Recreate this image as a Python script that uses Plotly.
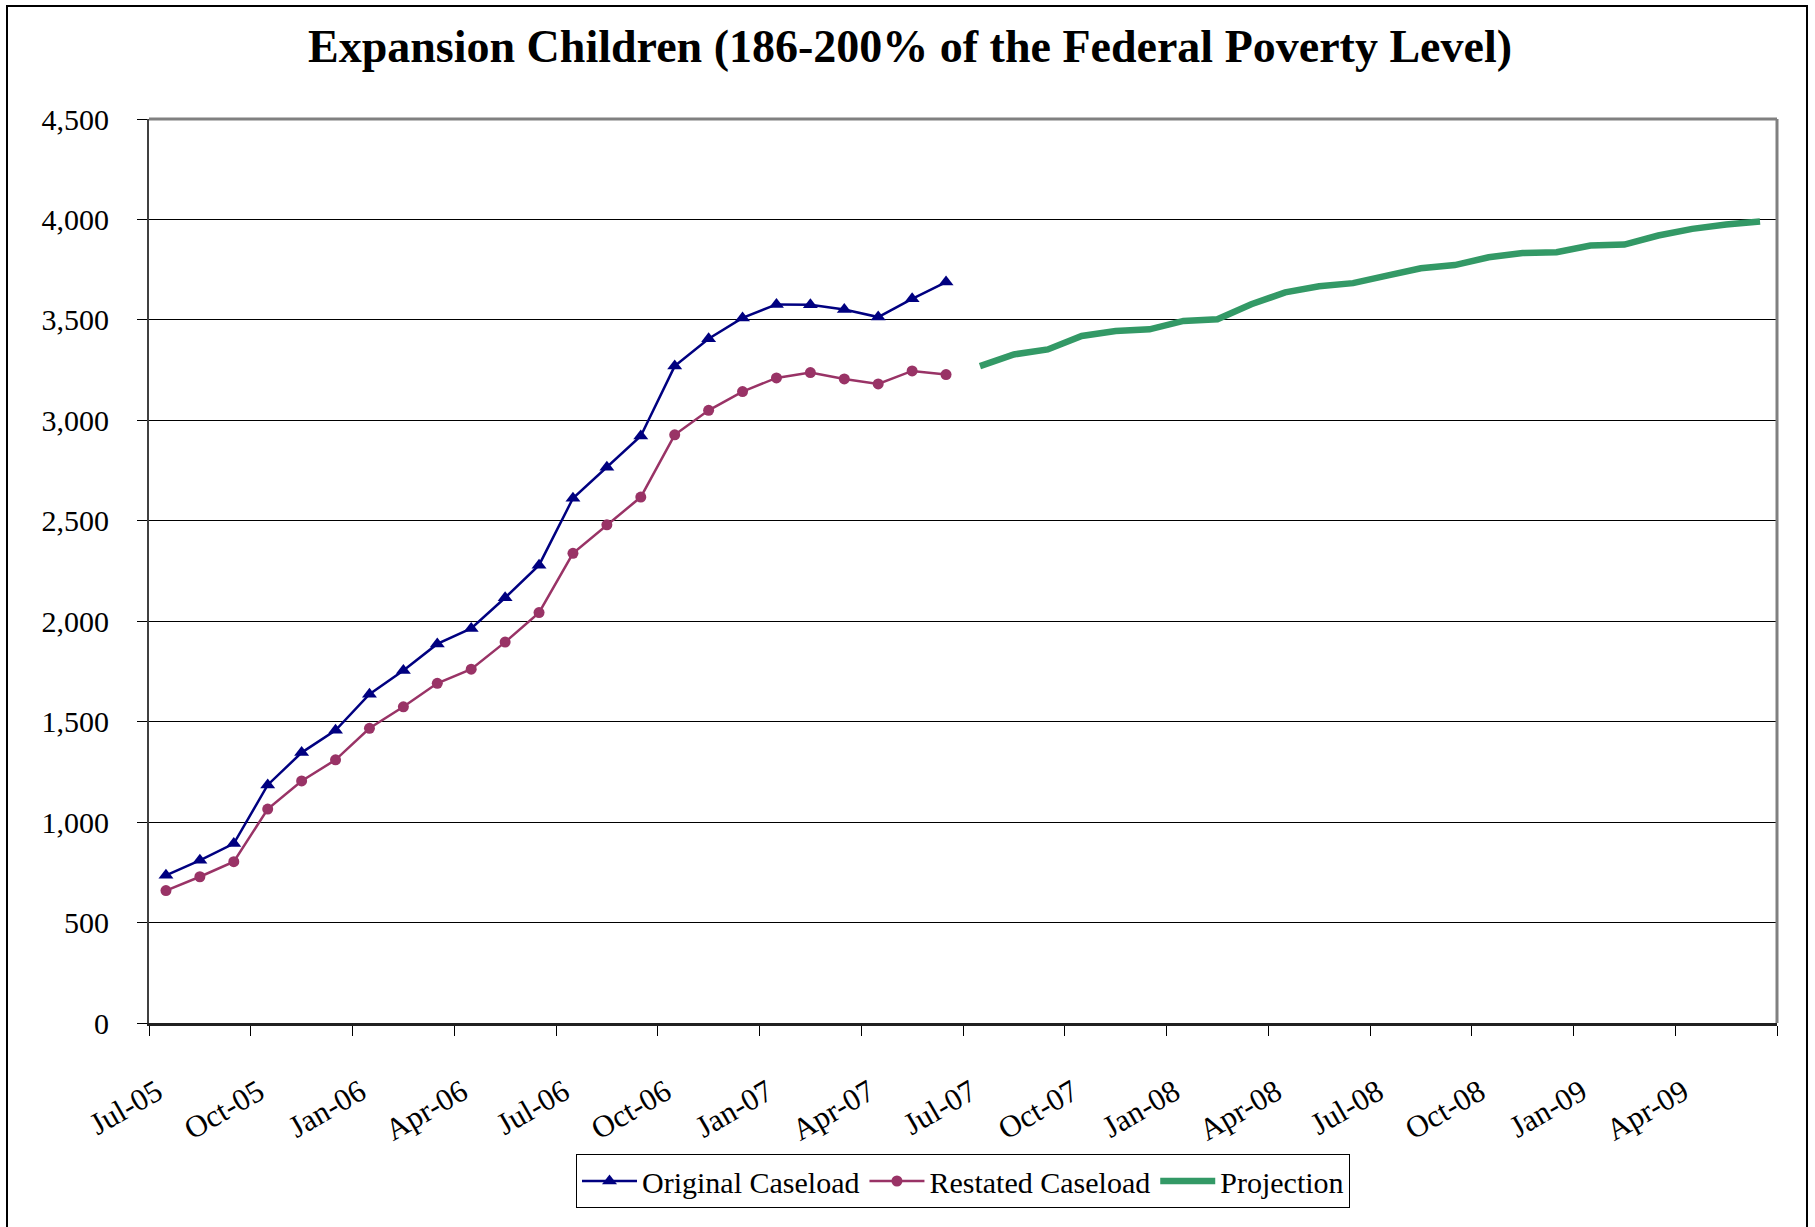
import plotly.graph_objects as go

# ---- data ----
months = [
    "Jul-05", "Aug-05", "Sep-05", "Oct-05", "Nov-05", "Dec-05",
    "Jan-06", "Feb-06", "Mar-06", "Apr-06", "May-06", "Jun-06",
    "Jul-06", "Aug-06", "Sep-06", "Oct-06", "Nov-06", "Dec-06",
    "Jan-07", "Feb-07", "Mar-07", "Apr-07", "May-07", "Jun-07",
    "Jul-07", "Aug-07", "Sep-07", "Oct-07", "Nov-07", "Dec-07",
    "Jan-08", "Feb-08", "Mar-08", "Apr-08", "May-08", "Jun-08",
    "Jul-08", "Aug-08", "Sep-08", "Oct-08", "Nov-08", "Dec-08",
    "Jan-09", "Feb-09", "Mar-09", "Apr-09", "May-09", "Jun-09",
]

original_caseload = [735, 810, 893, 1185, 1346, 1457, 1637, 1755, 1887, 1964, 2117, 2279,
                     2612, 2766, 2922, 3270, 3406, 3510, 3577, 3575, 3552, 3514, 3605, 3688]
restated_caseload = [659, 728, 803, 1065, 1205, 1310, 1467, 1574, 1691, 1761, 1896, 2043,
                     2338, 2480, 2618, 2928, 3050, 3143, 3211, 3238, 3206, 3181, 3246, 3228]
projection = [3270, 3328, 3353, 3420, 3445, 3453, 3495, 3503, 3578, 3637, 3667, 3683,
              3720, 3757, 3773, 3812, 3833, 3837, 3870, 3875, 3920, 3953, 3975, 3990]

title_text = "Expansion Children (186-200% of the Federal Poverty Level)"

# ---- positions ----
idx = list(range(len(months)))
orig_x = idx[:len(original_caseload)]
rest_x = idx[:len(restated_caseload)]
proj_x = idx[len(original_caseload):len(original_caseload) + len(projection)]
label_vals = idx[::3]
label_text = months[::3]
boundaries = [i - 0.5 for i in idx[::3]] + [idx[-1] + 0.5]

W, H = 1815, 1227
ML, MR, MT, MB = 149, 38, 119, 204
PW = W - ML - MR
PH = H - MT - MB

def px_x(p):
    return (p - ML) / PW

def px_y(p):
    return (H - MB - p) / PH

FONT = "Liberation Serif, Times New Roman, serif"

fig = go.Figure()
fig.add_trace(go.Scatter(
    x=orig_x, y=original_caseload, name="Original Caseload",
    mode="lines+markers",
    line=dict(color="#000080", width=2.5),
    marker=dict(symbol="triangle-up", size=13, color="#000080"),
))
fig.add_trace(go.Scatter(
    x=rest_x, y=restated_caseload, name="Restated Caseload",
    mode="lines+markers",
    line=dict(color="#993366", width=2.5),
    marker=dict(symbol="circle", size=11, color="#993366"),
))
fig.add_trace(go.Scatter(
    x=proj_x, y=projection, name="Projection",
    mode="lines",
    line=dict(color="#339966", width=6.5),
))

fig.update_layout(
    width=W, height=H,
    margin=dict(l=ML, r=MR, t=MT, b=MB),
    paper_bgcolor="white", plot_bgcolor="white",
    font=dict(family=FONT, size=30, color="black"),
    title=dict(text="<b>" + title_text + "</b>", x=910 / W, xref="container",
               xanchor="center", y=1 - 46 / H, yref="container", yanchor="middle",
               font=dict(family=FONT, size=46, color="black")),
    showlegend=True,
    legend=dict(orientation="h", x=0.5, xanchor="center", y=px_y(1154), yanchor="top",
                bordercolor="black", borderwidth=1, bgcolor="white",
                font=dict(family=FONT, size=30, color="black"),
                itemwidth=55, tracegroupgap=0),
)

fig.update_xaxes(
    range=[-0.5, len(months) - 0.5], tickmode="array",
    tickvals=label_vals, ticktext=label_text, tickangle=-30,
    ticks="", showgrid=False, zeroline=False,
    showline=True, linecolor="#202020", linewidth=3,
    tickfont=dict(family=FONT, size=31, color="black"),
    ticklabelstandoff=36, ticklabelshift=-9,
    minor=dict(tickmode="array", tickvals=boundaries, ticks="outside",
               ticklen=10, tickcolor="black", tickwidth=1, showgrid=False),
)
fig.update_yaxes(
    range=[0, 4500], tickmode="linear", tick0=0, dtick=500, tickformat=",",
    showgrid=True, gridcolor="black", gridwidth=1, zeroline=False,
    showline=True, linecolor="#404040", linewidth=2,
    ticks="outside", ticklen=10, tickcolor="black", tickwidth=1,
    tickfont=dict(family=FONT, size=30, color="black"),
    ticklabelstandoff=22,
)

# plot-area frame (top/right, gray)
fig.add_shape(type="line", xref="paper", yref="paper", x0=0, x1=1, y0=1, y1=1,
              line=dict(color="#808080", width=3))
fig.add_shape(type="line", xref="paper", yref="paper", x0=1, x1=1, y0=0, y1=1,
              line=dict(color="#808080", width=3))
# outer chart border
fig.add_shape(type="rect", xref="paper", yref="paper",
              x0=px_x(7), x1=px_x(1807), y0=px_y(1260), y1=px_y(6),
              line=dict(color="black", width=2), fillcolor="rgba(0,0,0,0)")

fig.write_html("out.html")
